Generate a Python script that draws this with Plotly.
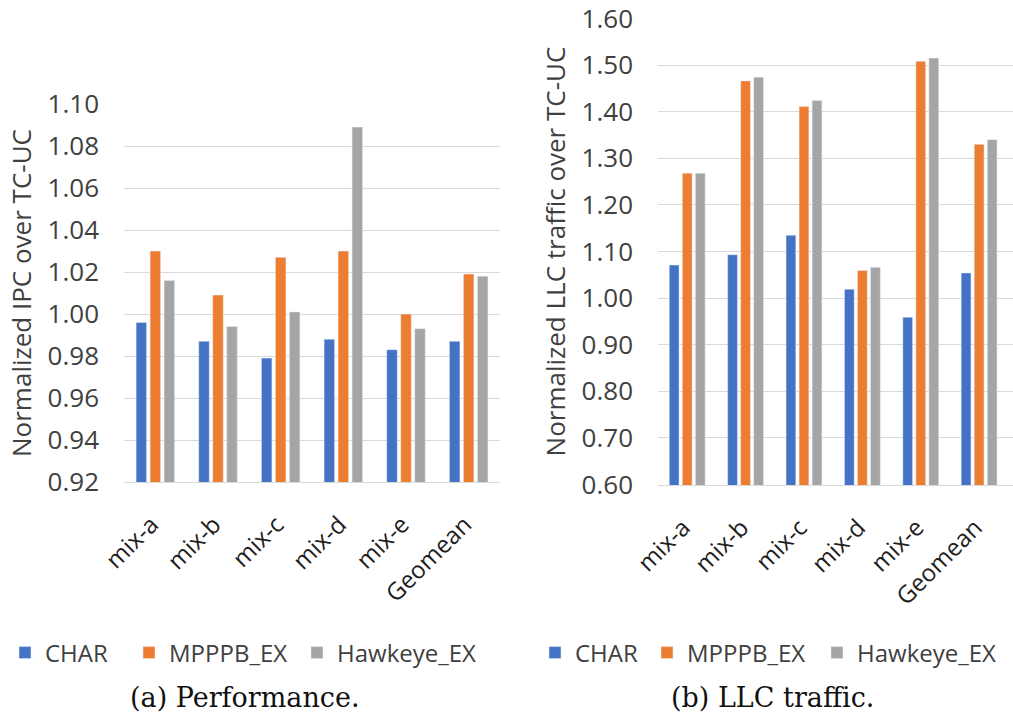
import plotly.graph_objects as go

categories = ["mix-a", "mix-b", "mix-c", "mix-d", "mix-e", "Geomean"]
series_names = ["CHAR", "MPPPB_EX", "Hawkeye_EX"]
colors = ["#4472C4", "#ED7D31", "#A5A5A5"]

# (a) Performance: normalized IPC over TC-UC
ipc_char = [0.996, 0.987, 0.979, 0.988, 0.983, 0.987]
ipc_mpppb = [1.030, 1.009, 1.027, 1.030, 1.000, 1.019]
ipc_hawkeye = [1.016, 0.994, 1.001, 1.089, 0.993, 1.018]
ipc_ticks = [0.92, 0.94, 0.96, 0.98, 1.00, 1.02, 1.04, 1.06, 1.08, 1.10]

# (b) LLC traffic: normalized LLC traffic over TC-UC
llc_char = [1.071, 1.093, 1.135, 1.019, 0.959, 1.054]
llc_mpppb = [1.268, 1.466, 1.411, 1.059, 1.508, 1.330]
llc_hawkeye = [1.268, 1.474, 1.424, 1.066, 1.515, 1.340]
llc_ticks = [0.60, 0.70, 0.80, 0.90, 1.00, 1.10, 1.20, 1.30, 1.40, 1.50, 1.60]

W, H = 1013, 719
TXT = "#404040"
GRID = "#d9d9d9"
SANS = "Open Sans"

fig = go.Figure()
left_legends = ["legend", "legend2", "legend3"]
right_legends = ["legend4", "legend5", "legend6"]
for name, col, vals, lg in zip(series_names, colors, [ipc_char, ipc_mpppb, ipc_hawkeye], left_legends):
    fig.add_trace(go.Bar(x=categories, y=vals, name=name, marker_color=col,
                         xaxis="x", yaxis="y", legend=lg, showlegend=True))
for name, col, vals, lg in zip(series_names, colors, [llc_char, llc_mpppb, llc_hawkeye], right_legends):
    fig.add_trace(go.Bar(x=categories, y=vals, name=name, marker_color=col,
                         xaxis="x2", yaxis="y2", legend=lg, showlegend=True))

def xax(domain, anchor, rng):
    return dict(domain=domain, anchor=anchor, range=rng, showgrid=False,
                showline=True, linecolor=GRID, linewidth=1, ticks="",
                tickangle=-45, tickfont=dict(family=SANS, size=24, color="#202020"),
                ticklabelstandoff=18, ticklabelshift=-4,
                automargin=False, fixedrange=True)

def yax(domain, anchor, rng, tickvals, title):
    return dict(domain=domain, anchor=anchor, range=rng, tickmode="array",
                tickvals=tickvals, ticktext=[f"{v:.2f}" for v in tickvals],
                showgrid=True, gridcolor=GRID, gridwidth=1,
                zeroline=False, showline=False, ticks="",
                tickfont=dict(family=SANS, size=26, color=TXT),
                ticklabelstandoff=24, ticklabeloverflow="allow", automargin=False,
                title=dict(text=title, font=dict(family=SANS, size=26, color=TXT), standoff=8))

def legend_at(xpx):
    return dict(orientation="h", x=xpx / W, y=1 - 653 / H, xanchor="left", yanchor="middle",
                font=dict(family=SANS, size=24, color=TXT), bgcolor="rgba(0,0,0,0)")

legend_text_starts = [46, 170, 338, 576, 688, 858]
legend_cfg = {}
for lg, xs in zip(left_legends + right_legends, legend_text_starts):
    legend_cfg[lg] = legend_at(xs - 41)

fig.update_layout(
    width=W, height=H,
    showlegend=True,
    margin=dict(l=0, r=0, t=0, b=0, autoexpand=False),
    paper_bgcolor="white", plot_bgcolor="white",
    barmode="group", bargap=0.33, bargroupgap=0.25,
    xaxis=xax([124 / W, 500 / W], "y", [-0.5, 5.5]),
    yaxis=yax([1 - 482 / H, 1 - 104 / H], "x", [0.92, 1.10], ipc_ticks,
              "Normalized IPC over TC-UC"),
    xaxis2=xax([658 / W, 1.0], "y2", [-0.5, 5.58]),
    yaxis2=yax([1 - 485 / H, 1 - 18 / H], "x2", [0.599, 1.601], llc_ticks,
               "Normalized LLC traffic over TC-UC"),
    annotations=[
        dict(text="(a) Performance.", x=245 / W, y=1 - 697 / H, xref="paper", yref="paper",
             xanchor="center", yanchor="middle", showarrow=False,
             font=dict(family="DejaVu Serif", size=27, color="#111111")),
        dict(text="(b) LLC traffic.", x=772 / W, y=1 - 697 / H, xref="paper", yref="paper",
             xanchor="center", yanchor="middle", showarrow=False,
             font=dict(family="DejaVu Serif", size=27, color="#111111")),
    ],
    **legend_cfg,
)

fig.write_html("out.html")
